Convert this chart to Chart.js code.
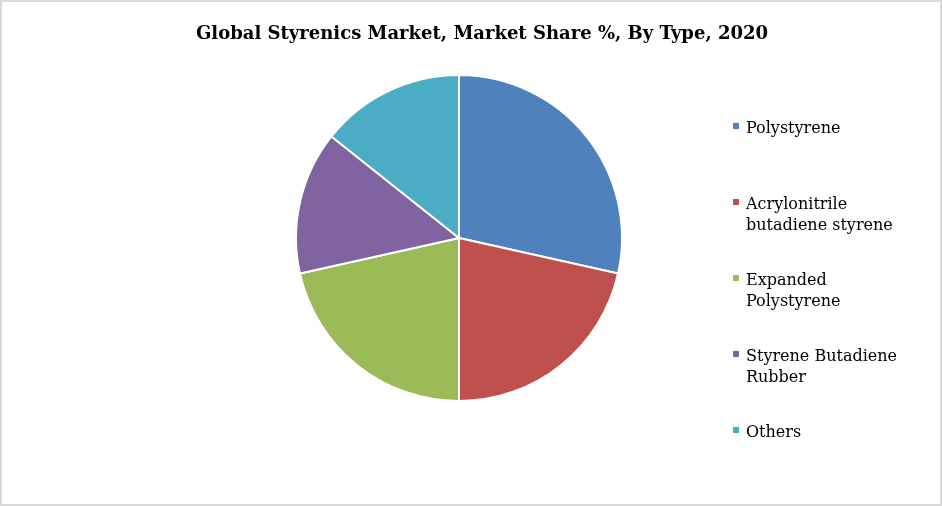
<!DOCTYPE html>
<html>
<head>
<meta charset="utf-8">
<script src="https://cdn.jsdelivr.net/npm/chart.js@4"></script>
<style>
  html, body { margin: 0; padding: 0; background: #fff; }
  #wrap { width: 942px; height: 506px; position: relative; }
</style>
</head>
<body>
<div id="wrap"><canvas id="styrenicsChart"></canvas></div>
<script>
// Market share by type, 2020
const types = ['Polystyrene', 'Acrylonitrile butadiene styrene', 'Expanded Polystyrene', 'Styrene Butadiene Rubber', 'Others'];
const legendLines = [['Polystyrene'], ['Acrylonitrile', 'butadiene styrene'], ['Expanded', 'Polystyrene'], ['Styrene Butadiene', 'Rubber'], ['Others']];
const shares = [28.5, 21.5, 21.5, 14.2, 14.3];
const colors = ['#4F81BD', '#C0504D', '#9BBB59', '#8064A2', '#4BACC6'];

const titleText = 'Global Styrenics Market, Market Share %, By Type, 2020';
const serif = "Georgia, 'DejaVu Serif', serif";

// title, legend and frame drawn by hand so they sit where Excel put them
const decorPlugin = {
    id: 'decor',
    afterDraw(chart) {
        const c = chart.ctx;
        c.save();

        // frame
        c.strokeStyle = '#D9D9D9';
        c.lineWidth = 2;
        c.strokeRect(1, 1, chart.width - 2, chart.height - 2);

        // title
        c.fillStyle = '#000';
        c.font = "bold 18px " + serif;
        c.textAlign = 'center';
        c.textBaseline = 'alphabetic';
        c.fillText(titleText, 482, 39);

        // legend
        c.font = "16px " + serif;
        c.textAlign = 'left';
        legendLines.forEach((lines, i) => {
            const top = 127 + i * 76;
            c.fillStyle = colors[i];
            c.fillRect(733, top - 4, 6, 6);
            c.fillStyle = '#000';
            lines.forEach((line, j) => {
                c.fillText(line, 746, top + 6 + j * 21);
            });
        });
        c.restore();
    }
};

const ctx = document.getElementById('styrenicsChart').getContext('2d');
const styrenicsChart = new Chart(ctx, {
    type: 'pie',
    data: {
        labels: types,
        datasets: [{
            data: shares,
            backgroundColor: colors,
            borderColor: '#ffffff',
            borderWidth: 2
        }]
    },
    options: {
        responsive: true,
        maintainAspectRatio: false,
        animation: false,
        layout: {
            padding: { top: 74, bottom: 104, left: 295, right: 319 }
        },
        plugins: {
            legend: { display: false },
            title: { display: false },
            tooltip: { enabled: false }
        }
    },
    plugins: [decorPlugin]
});
</script>
</body>
</html>
